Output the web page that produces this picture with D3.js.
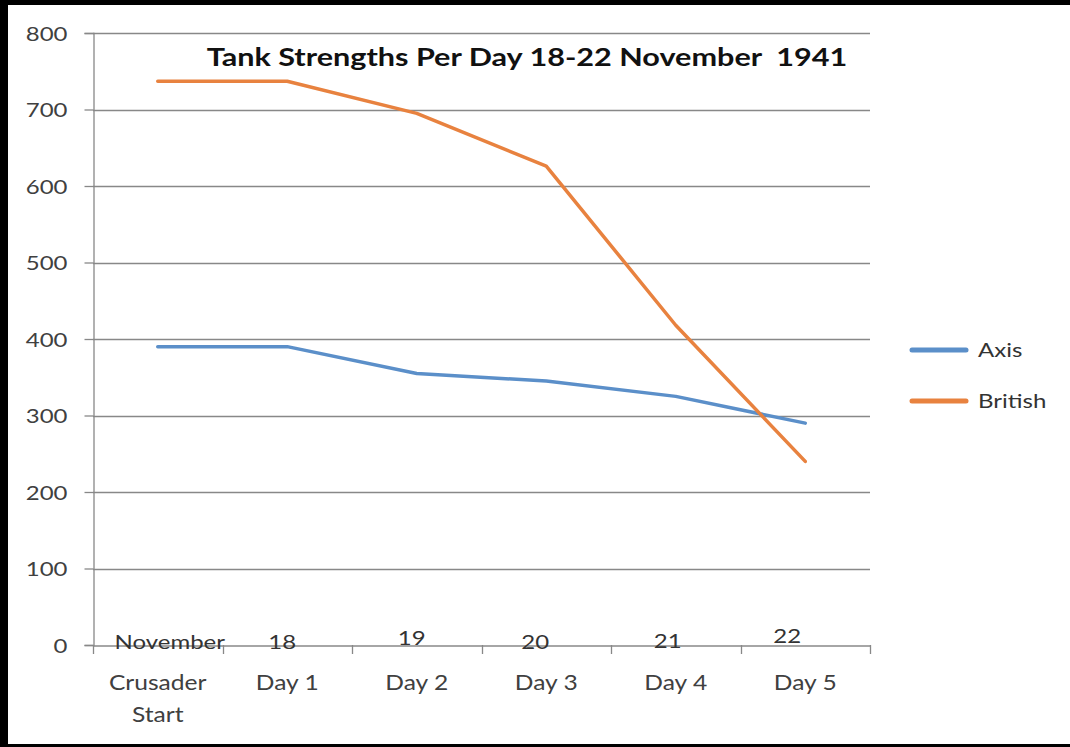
<!DOCTYPE html>
<html>
<head>
<meta charset="utf-8">
<script src="https://cdn.jsdelivr.net/npm/d3@7"></script>
<style>
  html, body { margin: 0; padding: 0; background: #fff; }
  svg { display: block; }
</style>
</head>
<body>
<svg id="chart" width="1070" height="747"></svg>
<script>
// ---- data ----
const categories = [["Crusader", "Start"], ["Day 1"], ["Day 2"], ["Day 3"], ["Day 4"], ["Day 5"]];
const dateLabels = ["November", "18", "19", "20", "21", "22"];
const axisValues = [390, 390, 355, 345, 325, 290];
const britishValues = [737, 737, 695, 626, 418, 240];
const yTicks = [0, 100, 200, 300, 400, 500, 600, 700, 800];
const seriesNames = ["Axis", "British"];
const title = "Tank Strengths Per Day 18-22 November  1941";

// ---- layout ----
const W = 1070, H = 747;
const plot = { left: 93, right: 870, top: 33, bottom: 645 };
const colors = { Axis: "#5b8fc9", British: "#e8823f" };
const gridColor = "#888888";
const textColor = "#404040";
const font = "Lato, 'Open Sans', sans-serif";
const SX = 1.2; // horizontal stretch of the original rendering

const svg = d3.select("#chart");
svg.append("rect").attr("width", W).attr("height", H).attr("fill", "#fff");

function place(sel, px, py) {
  return sel.attr("x", 0).attr("y", 0).attr("transform", `translate(${px},${py}) scale(${SX},1)`);
}

const x = d3.scaleBand().domain(d3.range(categories.length)).range([plot.left, plot.right]).padding(0);
const y = d3.scaleLinear().domain([0, 800]).range([plot.bottom, plot.top]);

// gridlines
svg.append("g").selectAll("line").data(yTicks.filter(d => d > 0)).join("line")
  .attr("x1", plot.left).attr("x2", plot.right)
  .attr("y1", d => Math.round(y(d)) + 0.5).attr("y2", d => Math.round(y(d)) + 0.5)
  .attr("stroke", gridColor).attr("stroke-width", 1.3);

// y axis
const yAxis = svg.append("g").attr("transform", `translate(${plot.left + 0.5},0)`)
  .call(d3.axisLeft(y).tickValues(yTicks).tickSize(9).tickPadding(17));
yAxis.select(".domain").attr("stroke", gridColor).attr("stroke-width", 1.3);
yAxis.selectAll(".tick line").attr("stroke", gridColor).attr("stroke-width", 1.3);
yAxis.selectAll(".tick text").attr("font-family", font).attr("font-size", 20)
  .attr("fill", textColor).attr("dy", "0.36em")
  .attr("x", -26 / SX).attr("transform", `scale(${SX},1)`);

// x axis
const xAxis = svg.append("g").attr("transform", `translate(0,${Math.round(y(0)) + 0.5})`)
  .call(d3.axisBottom(x).tickSize(0).tickFormat(""));
xAxis.select(".domain").attr("stroke", gridColor).attr("stroke-width", 1.3);
xAxis.selectAll(".tick").remove();
// boundary ticks
const bounds = d3.range(categories.length + 1).map(i => plot.left + i * x.bandwidth());
svg.append("g").selectAll("line").data(bounds).join("line")
  .attr("x1", d => Math.round(d) + 0.5).attr("x2", d => Math.round(d) + 0.5)
  .attr("y1", Math.round(y(0))).attr("y2", Math.round(y(0)) + 9)
  .attr("stroke", gridColor).attr("stroke-width", 1.3);

// category labels
const catG = svg.append("g");
categories.forEach((lines, i) => {
  lines.forEach((ln, j) => {
    place(catG.append("text"), x(i) + x.bandwidth() / 2, 690 + j * 32)
      .attr("text-anchor", "middle").attr("font-family", font).attr("font-size", 20.5)
      .attr("fill", textColor).text(ln);
  });
});

// lines
const line = d3.line().x((d, i) => x(i) + x.bandwidth() / 2).y(d => y(d));
[["Axis", axisValues], ["British", britishValues]].forEach(([name, vals]) => {
  svg.append("path").datum(vals).attr("d", line)
    .attr("fill", "none").attr("stroke", colors[name]).attr("stroke-width", 3.5)
    .attr("stroke-linejoin", "round").attr("stroke-linecap", "round");
});

// date annotations over the axis
const annDx = [12, -5, -5, -11, -8, -18];
const annY = [649, 649, 645, 649, 648, 643];
const annG = svg.append("g");
dateLabels.forEach((d, i) => {
  place(annG.append("text"), x(i) + x.bandwidth() / 2 + annDx[i], annY[i])
    .attr("text-anchor", "middle").attr("font-family", font).attr("font-size", 20)
    .attr("fill", "#333").text(d);
});

// title
place(svg.append("text"), 527, 66).attr("text-anchor", "middle")
  .attr("font-family", font).attr("font-size", 25.5).attr("font-weight", "bold")
  .attr("fill", "#111").attr("xml:space", "preserve").style("white-space", "pre").text(title);

// legend
const leg = svg.append("g");
seriesNames.forEach((name, i) => {
  const ly = 350 + i * 51;
  leg.append("line").attr("x1", 912).attr("x2", 966).attr("y1", ly).attr("y2", ly)
    .attr("stroke", colors[name]).attr("stroke-width", 5).attr("stroke-linecap", "round");
  place(leg.append("text"), 978, ly + 7).attr("font-family", font)
    .attr("font-size", 20).attr("fill", "#333").text(name);
});

// frame
svg.append("rect").attr("x", 0).attr("y", 0).attr("width", W).attr("height", 5).attr("fill", "#000");
svg.append("rect").attr("x", 0).attr("y", 0).attr("width", 8).attr("height", H).attr("fill", "#000");
svg.append("rect").attr("x", 0).attr("y", H - 3).attr("width", W).attr("height", 3).attr("fill", "#000");
</script>
</body>
</html>
